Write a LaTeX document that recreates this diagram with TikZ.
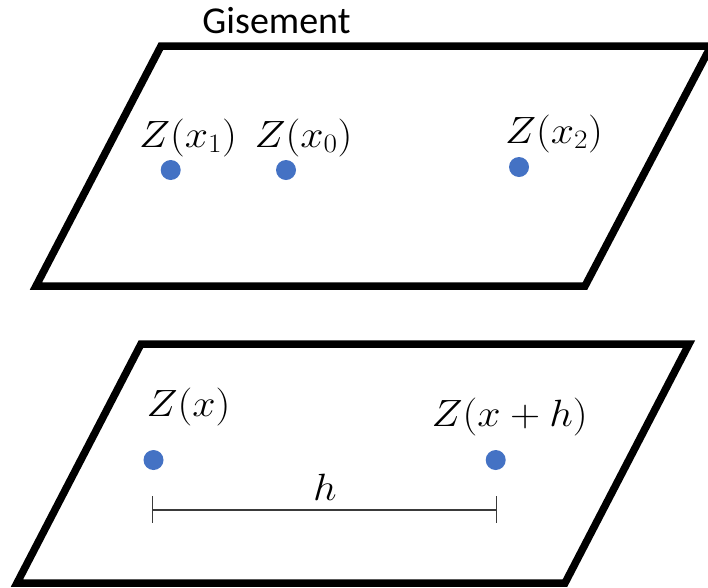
\RequirePackage{fix-cm}
\documentclass[tikz,border=0pt]{standalone}
\usepackage{fontspec}
\newfontfamily\carlito{Carlito}
\definecolor{dotblue}{HTML}{4472C4}
\definecolor{dimgray}{HTML}{3A3A3A}
\newcommand{\mlabel}[1]{\scalebox{1.1}[1]{$#1$}}
\tikzset{
  plane/.style={line width=7.5pt, line join=miter, draw=black},
  dotnode/.style={circle, fill=dotblue, minimum size=20pt, inner sep=0pt},
  lab/.style={anchor=base, inner sep=0pt, font=\fontsize{38}{44}\selectfont},
  title/.style={anchor=base, inner sep=0pt, font=\carlito\fontsize{38}{44}\selectfont},
  dimline/.style={draw=dimgray, line width=1.4pt},
  ticks/.style={draw=dimgray, line width=1.2pt}
}
\begin{document}
\begin{tikzpicture}[x=1pt,y=-1pt]
\useasboundingbox (0,0) rectangle (708,587);
\clip (0,0) rectangle (708,587);
% planes
\draw[plane] (36,286) -- (161,46) -- (711,46) -- (585,286) -- cycle;
\draw[plane] (17,583) -- (141,344) -- (689,344) -- (565,583) -- cycle;
% title
\node[title] (gis) at (276.5,33) {Gisement};
% top points
\node[dotnode] (p1) at (170.7,170) {};
\node[dotnode] (p0) at (286,170) {};
\node[dotnode] (p2) at (519,167) {};
\node[lab] (l1) at (188,147) {\mlabel{Z(x_1)}};
\node[lab] (l0) at (303.5,147) {\mlabel{Z(x_0)}};
\node[lab] (l2) at (554,143) {\mlabel{Z(x_2)}};
% bottom points
\node[dotnode] (pa) at (153.5,460) {};
\node[dotnode] (pb) at (495.7,460) {};
\node[lab] (la) at (188.5,416) {\mlabel{Z(x)}};
\node[lab] (lb) at (509.7,426) {\mlabel{Z(x+h)}};
% distance h
\coordinate (hl) at (152.3,510);
\coordinate (hr) at (496.7,510);
\draw[dimline] (hl) -- (hr);
\draw[ticks] ([yshift=14pt]hl) -- ([yshift=-13pt]hl);
\draw[ticks] ([yshift=14pt]hr) -- ([yshift=-13pt]hr);
\node[lab] (hlab) at (325,500.5) {\mlabel{h}};
\end{tikzpicture}
\end{document}
